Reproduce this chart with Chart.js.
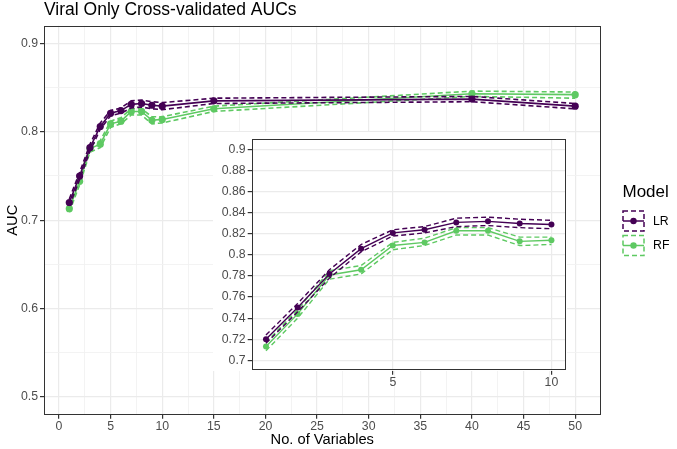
<!DOCTYPE html>
<html><head><meta charset="utf-8">
<script src="https://cdn.jsdelivr.net/npm/chart.js@4.4.1/dist/chart.umd.min.js"></script>
<style>
html,body{margin:0;padding:0;background:#fff;}
#wrap{position:relative;width:677px;height:449px;overflow:hidden;}
#main{position:absolute;left:0;top:0;width:677px;height:449px;}
#inset{position:absolute;left:200px;top:125px;width:380px;height:270px;}
</style></head><body>
<div id="wrap"><canvas id="main" width="677" height="449"></canvas><canvas id="inset" width="380" height="270"></canvas></div>
<script>
// ---- data ----
const nVars   = [1, 2, 3, 4, 5, 6, 7, 8, 9, 10, 15, 40, 50];
const lrAUC   = [0.720, 0.750, 0.782, 0.806, 0.821, 0.824, 0.831, 0.832, 0.830, 0.829, 0.835, 0.837, 0.829];
const lrLower = [0.716, 0.746, 0.778, 0.803, 0.818, 0.821, 0.827, 0.828, 0.826, 0.825, 0.832, 0.834, 0.826];
const lrUpper = [0.724, 0.754, 0.786, 0.810, 0.824, 0.827, 0.835, 0.836, 0.834, 0.833, 0.838, 0.840, 0.832];
const rfAUC   = [0.713, 0.744, 0.781, 0.786, 0.809, 0.812, 0.823, 0.823, 0.813, 0.814, 0.826, 0.843, 0.842];
const rfLower = [0.709, 0.740, 0.777, 0.782, 0.805, 0.809, 0.819, 0.819, 0.809, 0.810, 0.823, 0.840, 0.838];
const rfUpper = [0.717, 0.748, 0.785, 0.790, 0.812, 0.816, 0.826, 0.826, 0.817, 0.817, 0.829, 0.846, 0.845];
const models  = ['LR', 'RF'];
const mainXTicks  = [0, 2.5, 5, 7.5, 10, 12.5, 15, 17.5, 20, 22.5, 25, 27.5, 30, 32.5, 35, 37.5, 40, 42.5, 45, 47.5, 50];
const mainYTicks  = [0.5, 0.55, 0.6, 0.65, 0.7, 0.75, 0.8, 0.85, 0.9];
const insetXTicks = [5, 10];
const insetYTicks = [0.70, 0.72, 0.74, 0.76, 0.78, 0.80, 0.82, 0.84, 0.86, 0.88, 0.90];
const insetMaxVars = 10;

// ---- styling ----
const FONT = "'Liberation Sans', Arial, Helvetica, sans-serif";
const colors = { LR: '#440154', RF: '#5EC962' };
const GRID = '#EBEBEB', GRID_MINOR = '#F2F2F2', DARK = '#333333', TICKTXT = '#4D4D4D';
const TICKSIZE = 12.3;

function pts(xs, ys, n) {
  const out = [];
  for (let i = 0; i < xs.length; i++) { if (n === undefined || xs[i] <= n) out.push({ x: xs[i], y: ys[i] }); }
  return out;
}
function buildDatasets(n, r, lw) {
  const series = { LR: [lrAUC, lrLower, lrUpper], RF: [rfAUC, rfLower, rfUpper] };
  const ds = [];
  models.forEach(m => {
    const [c, lo, hi] = series[m];
    ds.push({ label: m, data: pts(nVars, c, n), borderColor: colors[m], backgroundColor: colors[m],
      borderWidth: lw, pointRadius: r, pointBorderWidth: 0, tension: 0 });
    ds.push({ label: m + ' lower', data: pts(nVars, lo, n), borderColor: colors[m], borderWidth: lw,
      borderDash: [5, 3], pointRadius: 0, tension: 0, fill: false });
    ds.push({ label: m + ' upper', data: pts(nVars, hi, n), borderColor: colors[m], borderWidth: lw,
      borderDash: [5, 3], pointRadius: 0, tension: 0, fill: false });
  });
  return ds;
}
const isMajorX = v => Math.abs(v % 5) < 1e-9;
const isMajorY = v => Math.abs(v * 10 - Math.round(v * 10)) < 1e-6;

const mainPlugin = {
  id: 'mainDecor',
  afterDraw(chart) {
    const ctx = chart.ctx, a = chart.chartArea;
    ctx.save();
    ctx.strokeStyle = DARK; ctx.lineWidth = 1;
    ctx.strokeRect(Math.round(a.left) + 0.5, Math.round(a.top) + 0.5, Math.round(a.right - a.left) - 1, Math.round(a.bottom - a.top) - 1);
    // title
    ctx.fillStyle = '#000'; ctx.font = '17.5px ' + FONT; ctx.textBaseline = 'alphabetic'; ctx.textAlign = 'left';
    ctx.fillText('Viral Only Cross-validated AUCs', 44, 14.5);
    // legend
    ctx.font = '17px ' + FONT; ctx.textBaseline = 'middle';
    ctx.fillText('Model', 622.5, 192);
    models.forEach((m, i) => {
      const y0 = 211 + i * 24.5, h = 20, x0 = 623, w = 21;
      ctx.strokeStyle = colors[m]; ctx.lineWidth = 1.5; ctx.setLineDash([5, 3]);
      ctx.strokeRect(x0, y0, w, h);
      ctx.setLineDash([]);
      const cy = y0 + h / 2;
      ctx.beginPath(); ctx.moveTo(x0, cy); ctx.lineTo(x0 + w, cy); ctx.stroke();
      ctx.fillStyle = colors[m];
      ctx.beginPath(); ctx.arc(x0 + w / 2, cy, 3.2, 0, Math.PI * 2); ctx.fill();
      ctx.fillStyle = '#000'; ctx.font = '12.3px ' + FONT;
      ctx.fillText(m, 653, cy + 0.5);
    });
    ctx.restore();
  }
};

new Chart(document.getElementById('main'), {
  type: 'line',
  data: { datasets: buildDatasets(undefined, 3.6, 1.6) },
  options: {
    responsive: false, animation: false, devicePixelRatio: 1,
    layout: { padding: { top: 25.7, right: 76.5, left: 0, bottom: 0 } },
    plugins: { legend: { display: false }, tooltip: { enabled: false }, title: { display: false } },
    scales: {
      x: {
        type: 'linear', min: -1.45, max: 52.45,
        afterBuildTicks: s => { s.ticks = mainXTicks.map(v => ({ value: v })); },
        afterFit: s => { s.height = 34.3; },
        ticks: { autoSkip: false, maxRotation: 0, padding: 1, color: TICKTXT, font: { family: FONT, size: TICKSIZE },
          callback: v => isMajorX(v) ? String(v) : '' },
        grid: { color: c => isMajorX(c.tick.value) ? GRID : GRID_MINOR, lineWidth: c => isMajorX(c.tick.value) ? 1.2 : 0.9,
          tickLength: 4, tickColor: c => isMajorX(c.tick.value) ? DARK : 'rgba(0,0,0,0)', drawTicks: true },
        border: { display: false },
        title: { display: true, text: 'No. of Variables', color: '#000', font: { family: FONT, size: 14.7 }, padding: { top: 0, bottom: 0 } }
      },
      y: {
        type: 'linear', min: 0.48, max: 0.92,
        afterBuildTicks: s => { s.ticks = mainYTicks.map(v => ({ value: v })); },
        afterFit: s => { s.width = 44; },
        ticks: { autoSkip: false, padding: 2, color: TICKTXT, font: { family: FONT, size: TICKSIZE },
          callback: v => isMajorY(v) ? v.toFixed(1) : '' },
        grid: { color: c => isMajorY(c.tick.value) ? GRID : GRID_MINOR, lineWidth: c => isMajorY(c.tick.value) ? 1.2 : 0.9,
          tickLength: 4, tickColor: c => isMajorY(c.tick.value) ? DARK : 'rgba(0,0,0,0)', drawTicks: true },
        border: { display: false },
        title: { display: true, text: 'AUC', color: '#000', font: { family: FONT, size: 14.7 }, padding: { top: 4, bottom: 0 } }
      }
    }
  },
  plugins: [mainPlugin]
});

const insetPlugin = {
  id: 'insetDecor',
  beforeDraw(chart) {
    const ctx = chart.ctx;
    ctx.save(); ctx.fillStyle = '#fff'; ctx.fillRect(13, 7, 354, 239); ctx.restore();
  },
  afterDraw(chart) {
    const ctx = chart.ctx, a = chart.chartArea;
    ctx.save();
    ctx.strokeStyle = DARK; ctx.lineWidth = 1;
    ctx.strokeRect(Math.round(a.left) + 0.5, Math.round(a.top) + 0.5, Math.round(a.right - a.left) - 1, Math.round(a.bottom - a.top) - 1);
    ctx.restore();
  }
};

new Chart(document.getElementById('inset'), {
  type: 'line',
  data: { datasets: buildDatasets(insetMaxVars, 3, 1.4) },
  options: {
    responsive: false, animation: false, devicePixelRatio: 1,
    layout: { padding: { top: 14.3, right: 14.3, left: 0, bottom: 0 } },
    plugins: { legend: { display: false }, tooltip: { enabled: false } },
    scales: {
      x: {
        type: 'linear', min: 0.55, max: 10.45,
        afterBuildTicks: s => { s.ticks = insetXTicks.map(v => ({ value: v })); },
        afterFit: s => { s.height = 24.3; },
        ticks: { autoSkip: false, maxRotation: 0, padding: 1, color: TICKTXT, font: { family: FONT, size: TICKSIZE }, callback: v => String(v) },
        grid: { color: GRID, lineWidth: 1.2, tickLength: 4, tickColor: DARK },
        border: { display: false }
      },
      y: {
        type: 'linear', min: 0.69, max: 0.91,
        afterBuildTicks: s => { s.ticks = insetYTicks.map(v => ({ value: v })); },
        afterFit: s => { s.width = 51.7; },
        ticks: { autoSkip: false, padding: 2, color: TICKTXT, font: { family: FONT, size: TICKSIZE },
          callback: v => String(parseFloat(v.toFixed(2))) },
        grid: { color: GRID, lineWidth: 1.2, tickLength: 4, tickColor: DARK },
        border: { display: false }
      }
    }
  },
  plugins: [insetPlugin]
});
</script>
</body></html>
